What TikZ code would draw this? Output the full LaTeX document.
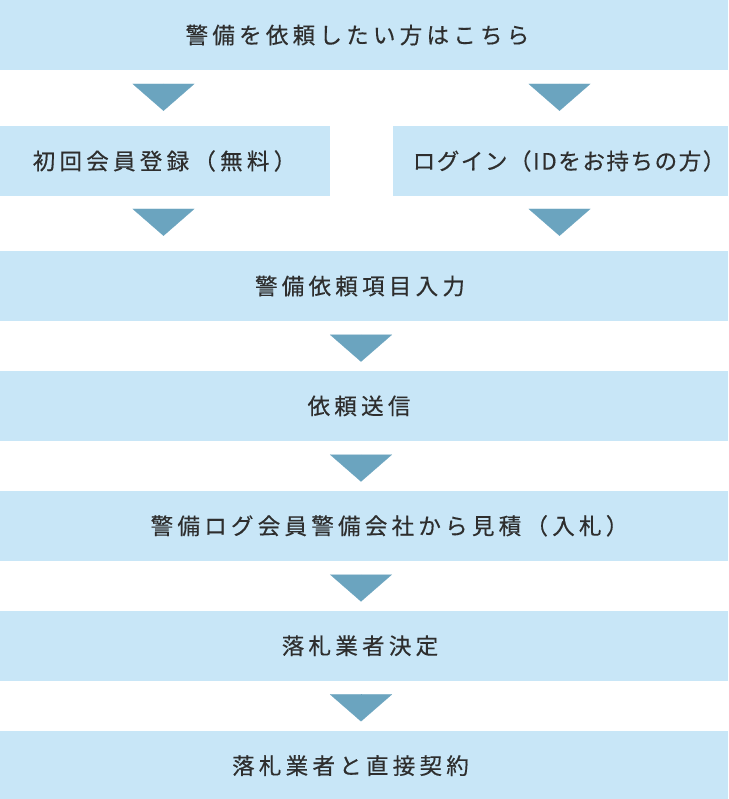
\documentclass[tikz,border=0pt]{standalone}
\usepackage{fontspec}
\newfontfamily\jpfont[LetterSpace=19,FakeBold=0.4]{Noto Sans CJK JP}
\newfontfamily\jpnarrow[LetterSpace=7,FakeBold=0.4]{Noto Sans CJK JP}
\usetikzlibrary{positioning,calc,arrows.meta}

\definecolor{boxblue}{HTML}{C8E6F7}
\definecolor{flowblue}{HTML}{6BA4BF}
\definecolor{labelgray}{HTML}{2E2E2E}

\begin{document}
\begin{tikzpicture}[x=1pt,y=1pt,
      nodes={inner sep=0pt, text=labelgray, font=\jpfont\fontsize{22.5}{27}\selectfont},
      stepbox/.style={rectangle, fill=boxblue, minimum width=728pt, minimum height=70pt},
      nudge/.style={execute at begin node={\hspace*{#1}}},
      flow/.style={draw=flowblue, line width=0.1pt, shorten <=13.5pt, shorten >=9pt,
        -{Triangle[width=62pt,length=27pt,fill=flowblue]}},
      node distance=49.5pt]
    \useasboundingbox (0,0) rectangle (728,-799);

    \node[stepbox,nudge=-13pt](req) at (364,-35){警備を依頼したい方はこちら};
    \node[stepbox,minimum width=330pt,nudge=-1pt](reg) at (165,-161){初回会員登録（無料）};
    \node[stepbox,minimum width=335pt,nudge=17pt,font=\jpnarrow\fontsize{22.5}{27}\selectfont](login) at (560.5,-161){ログイン（IDをお持ちの方）};
    \node[stepbox,nudge=-8pt](input) at (364,-286){警備依頼項目入力};
    \node[stepbox,below=of input,nudge=-10pt](send){依頼送信};
    \node[stepbox,below=of send,nudge=51pt](bid){警備ログ会員警備会社から見積（入札）};
    \node[stepbox,below=of bid,nudge=-8pt](decide){落札業者決定};
    \node[stepbox,below=of decide,nudge=-27pt](contract){落札業者と直接契約};

    \draw[flow,shorten >=15pt] ([xshift=-1.5pt]req.south -| reg.south) -- ([xshift=-1.5pt]reg.north);
    \draw[flow,shorten >=15pt] ([xshift=-1pt]req.south -| login.south) -- ([xshift=-1pt]login.north);
    \draw[flow,shorten >=15pt] ([xshift=-1.5pt]reg.south) -- ([xshift=-1.5pt]reg.south |- input.north);
    \draw[flow,shorten >=15pt] ([xshift=-1pt]login.south) -- ([xshift=-1pt]login.south |- input.north);
    \draw[flow] ([xshift=-3pt]input.south) -- ([xshift=-3pt]send.north);
    \draw[flow] ([xshift=-3pt]send.south) -- ([xshift=-3pt]bid.north);
    \draw[flow] ([xshift=-3pt]bid.south) -- ([xshift=-3pt]decide.north);
    \draw[flow] ([xshift=-3pt]decide.south) -- ([xshift=-3pt]contract.north);

\end{tikzpicture}
\end{document}
